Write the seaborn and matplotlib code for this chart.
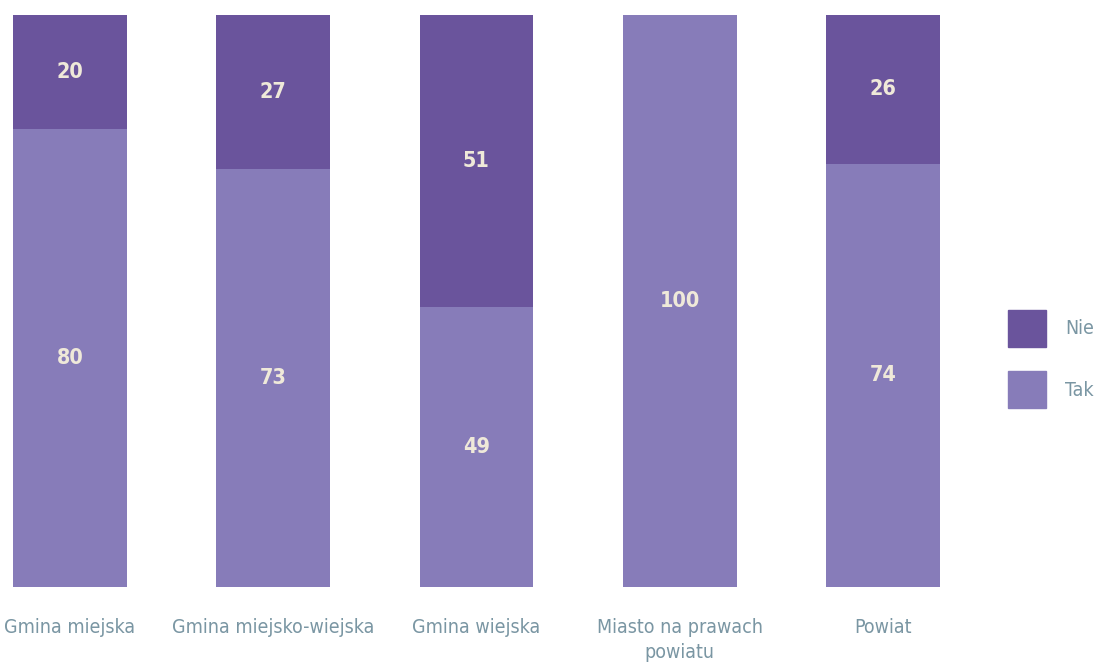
import matplotlib.pyplot as plt
import seaborn as sns
import pandas as pd
from matplotlib.patches import Patch

# Data (percent)
categories = ["Gmina miejska", "Gmina miejsko-wiejska", "Gmina wiejska",
              "Miasto na prawach\npowiatu", "Powiat"]
tak = [80, 73, 49, 100, 74]
nie = [20, 27, 51, 0, 26]

dark = "#6a549c"
light = "#877cb9"
label_col = "#7a96a3"
value_col = "#efe9d9"

sns.set_style("white")
plt.rcParams['font.family'] = ['DejaVu Sans']
plt.rcParams['font.stretch'] = 'condensed'

df = pd.DataFrame({"cat": categories, "Tak": tak, "Nie": nie})
df["total"] = df["Tak"] + df["Nie"]

fig = plt.figure(figsize=(10.95, 6.69), dpi=100)
ax = fig.add_axes([9 / 1095, 82 / 669, 935 / 1095, 572 / 669])

# stacked: full bar in dark, then Tak part over it in light
sns.barplot(data=df, x="cat", y="total", color=dark, saturation=1, width=0.56,
            linewidth=0, ax=ax)
sns.barplot(data=df, x="cat", y="Tak", color=light, saturation=1, width=0.56,
            linewidth=0, ax=ax)

for i, row in df.iterrows():
    ax.text(i, row["Tak"] / 2, str(row["Tak"]), ha="center", va="center",
            color=value_col, fontsize=15.5, fontweight="bold")
    if row["Nie"] > 0:
        ax.text(i, row["Tak"] + row["Nie"] / 2, str(row["Nie"]), ha="center", va="center",
                color=value_col, fontsize=15.5, fontweight="bold")

ax.set_xlim(-0.3, 4.3)
ax.set_ylim(0, 100)
ax.set_xlabel("")
ax.set_ylabel("")
ax.set_yticks([])
ax.tick_params(axis="x", length=0, pad=22, labelsize=14, labelcolor=label_col)
for lbl in ax.get_xticklabels():
    lbl.set_verticalalignment("top")
    lbl.set_linespacing(1.4)
sns.despine(ax=ax, left=True, bottom=True)

handles = [Patch(color=dark, label="Nie"), Patch(color=light, label="Tak")]
leg = fig.legend(handles=handles, loc="upper left", bbox_to_anchor=(1008 / 1095, 1 - 310 / 669),
                 frameon=False, fontsize=14, handlelength=1.95, handleheight=2.55,
                 handletextpad=1.0, labelspacing=1.25, borderpad=0, borderaxespad=0)
for t in leg.get_texts():
    t.set_color(label_col)

plt.savefig("out.png", dpi=100)
